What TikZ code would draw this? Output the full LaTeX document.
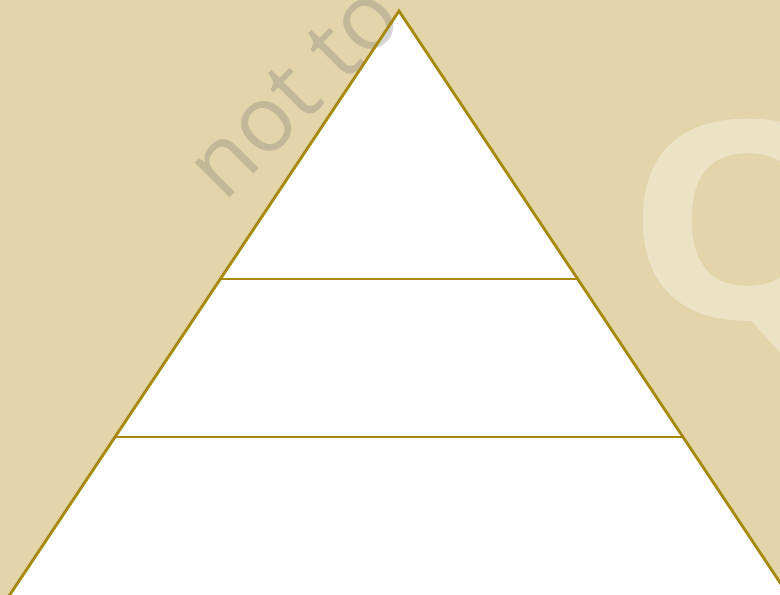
\documentclass[tikz,border=0pt]{standalone}
\usepackage{fontspec}
\setmainfont{Open Sans}
\definecolor{bgbeige}{HTML}{E3D4A9}
\definecolor{gold}{HTML}{A8880C}
\definecolor{wmgray}{HTML}{777777}
\tikzset{
  edge/.style={draw=gold, line width=2.8pt, line join=miter},
  wmark/.style={text=wmgray, text opacity=0.3, inner sep=0pt, font=\fontsize{92}{92}\selectfont},
  bigq/.style={text=white, text opacity=0.35, inner sep=0pt, font=\bfseries\fontsize{275}{275}\selectfont}
}
\begin{document}
\begin{tikzpicture}[x=1pt,y=-1pt]
\useasboundingbox (0,0) rectangle (780,595);
\clip (0,0) rectangle (780,595);
\fill[bgbeige] (0,0) rectangle (780,595);
\node[bigq, anchor=base west, xscale=1.12] (q) at (625,318) {Q};
\coordinate (apex) at (399,11);
\coordinate (bl) at (-1,611);
\coordinate (br) at (799,611);
\coordinate (l1) at (220.3,279);
\coordinate (r1) at (577.7,279);
\coordinate (l2) at (115,437);
\coordinate (r2) at (683,437);
\fill[white] (apex) -- (bl) -- (br) -- cycle;
\node[wmark, rotate=45, anchor=base west] (wm) at (224,204) {not to be shared};
\draw[edge] (bl) -- (apex) -- (br);
\draw[edge] (l1) -- (r1);
\draw[edge] (l2) -- (r2);
\end{tikzpicture}
\end{document}
